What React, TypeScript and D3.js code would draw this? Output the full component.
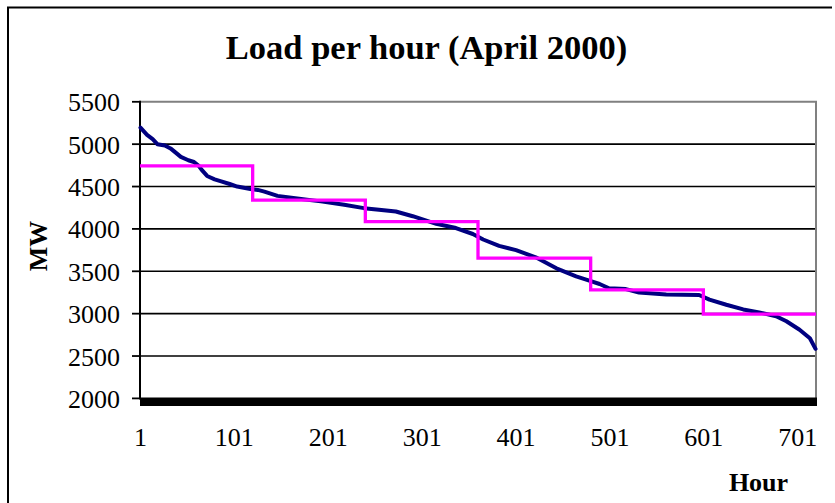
import React from "react";
import * as d3 from "d3";

const TITLE = "Load per hour (April 2000)";
const Y_TITLE = "MW";
const X_TITLE = "Hour";

const HOURS_IN_MONTH = 720;
const yTicks = [2000, 2500, 3000, 3500, 4000, 4500, 5000, 5500];
const xTickHours = [1, 101, 201, 301, 401, 501, 601, 701];

// Hourly load duration curve (at breakpoints)
const loadHours = [
  1, 8, 14, 19, 27, 33, 44, 52, 58, 63, 66, 72, 80, 87, 96, 104, 118, 126, 133,
  147, 168, 193, 218, 239, 255, 273, 291, 316, 337, 355, 366, 383, 401, 422,
  444, 465, 479, 490, 500, 518, 532, 561, 596, 607, 625, 643, 660, 678, 689,
  703, 714, 720,
];
const loadMW = [
  5195, 5110, 5060, 5000, 4985, 4950, 4850, 4810, 4790, 4745, 4700, 4625, 4585,
  4560, 4530, 4500, 4470, 4460, 4440, 4390, 4360, 4325, 4285, 4245, 4225, 4205,
  4150, 4060, 4010, 3940, 3875, 3800, 3750, 3665, 3535, 3440, 3390, 3350, 3300,
  3290, 3250, 3225, 3220, 3165, 3105, 3050, 3015, 2970, 2910, 2810, 2710, 2585,
];

// Average load per 120-hour block
const blockStarts = [0, 120, 240, 360, 480, 600];
const blockAvgMW = [4745, 4340, 4085, 3655, 3280, 2995];

const W = 835;
const H = 503;
const plot = { left: 140, right: 816, top: 101.8, bottom: 398.4 };
const serif = "'Times New Roman', 'Liberation Serif', serif";

export default function App() {
  const x = d3.scaleLinear().domain([0, HOURS_IN_MONTH]).range([plot.left, plot.right]);
  const y = d3.scaleLinear().domain([2000, 5500]).range([plot.bottom, plot.top]);

  const loadLine = d3
    .line<number>()
    .x((_, i) => x(loadHours[i] - 0.5))
    .y((d) => y(d))
    .curve(d3.curveLinear)(loadMW);

  const stepPts: [number, number][] = blockStarts.map((s, i) => [s, blockAvgMW[i]]);
  stepPts.push([HOURS_IN_MONTH, blockAvgMW[blockAvgMW.length - 1]]);
  const avgLine = d3
    .line<[number, number]>()
    .x((d) => x(d[0]))
    .y((d) => y(d[1]))
    .curve(d3.curveStepAfter)(stepPts);

  const catTicks = d3.range(0, HOURS_IN_MONTH + 1);

  return (
    <svg
      width={W}
      height={H}
      style={{ position: "absolute", left: 0, top: 0, background: "#fff" }}
    >
      <rect x={0} y={0} width={W} height={H} fill="#fff" />
      {/* outer frame */}
      <path d={`M8,${H} V7.5 H832`} fill="none" stroke="#000" strokeWidth={2} />

      {/* title */}
      <text
        x={426.5}
        y={59}
        textAnchor="middle"
        fontFamily={serif}
        fontWeight="bold"
        fontSize={34.5}
      >
        {TITLE}
      </text>

      {/* gridlines */}
      {yTicks
        .filter((t) => t !== 2000 && t !== 5500)
        .map((t) => (
          <line
            key={"g" + t}
            x1={plot.left}
            x2={plot.right}
            y1={y(t)}
            y2={y(t)}
            stroke="#000"
            strokeWidth={1.6}
          />
        ))}
      {/* plot border top/right gray */}
      <path
        d={`M${plot.left},${y(5500)} H${plot.right} V${plot.bottom}`}
        fill="none"
        stroke="#808080"
        strokeWidth={2}
      />

      {/* y axis */}
      <line x1={plot.left} x2={plot.left} y1={y(5500) - 1} y2={plot.bottom} stroke="#000" strokeWidth={2} />
      {yTicks.map((t) => (
        <g key={"yt" + t}>
          <line x1={plot.left - 8} x2={plot.left} y1={y(t)} y2={y(t)} stroke="#000" strokeWidth={1.8} />
          <text
            x={120}
            y={y(t) + 9.5}
            textAnchor="end"
            fontFamily={serif}
            fontSize={26}
          >
            {t}
          </text>
        </g>
      ))}

      {/* x axis with dense category ticks */}
      <line x1={plot.left - 1} x2={plot.right + 1} y1={plot.bottom} y2={plot.bottom} stroke="#000" strokeWidth={2} />
      <g shapeRendering="crispEdges">
        {catTicks.map((c) => (
          <line
            key={"ct" + c}
            x1={x(c)}
            x2={x(c)}
            y1={plot.bottom}
            y2={plot.bottom + 7.6}
            stroke="#000"
            strokeWidth={1}
          />
        ))}
      </g>
      {xTickHours.map((h) => (
        <text
          key={"xt" + h}
          x={x(h - 0.5)}
          y={446}
          textAnchor="middle"
          fontFamily={serif}
          fontSize={26}
        >
          {h}
        </text>
      ))}

      {/* series */}
      <path d={loadLine || ""} fill="none" stroke="#000080" strokeWidth={4} strokeLinejoin="round" strokeLinecap="round" />
      <path d={avgLine || ""} fill="none" stroke="#FF00FF" strokeWidth={3.3} strokeLinejoin="miter" />

      {/* axis titles */}
      <text
        transform={`translate(46.5,246) rotate(-90)`}
        textAnchor="middle"
        fontFamily={serif}
        fontWeight="bold"
        fontSize={26}
      >
        {Y_TITLE}
      </text>
      <text
        x={758.5}
        y={491}
        textAnchor="middle"
        fontFamily={serif}
        fontWeight="bold"
        fontSize={26}
      >
        {X_TITLE}
      </text>
    </svg>
  );
}
